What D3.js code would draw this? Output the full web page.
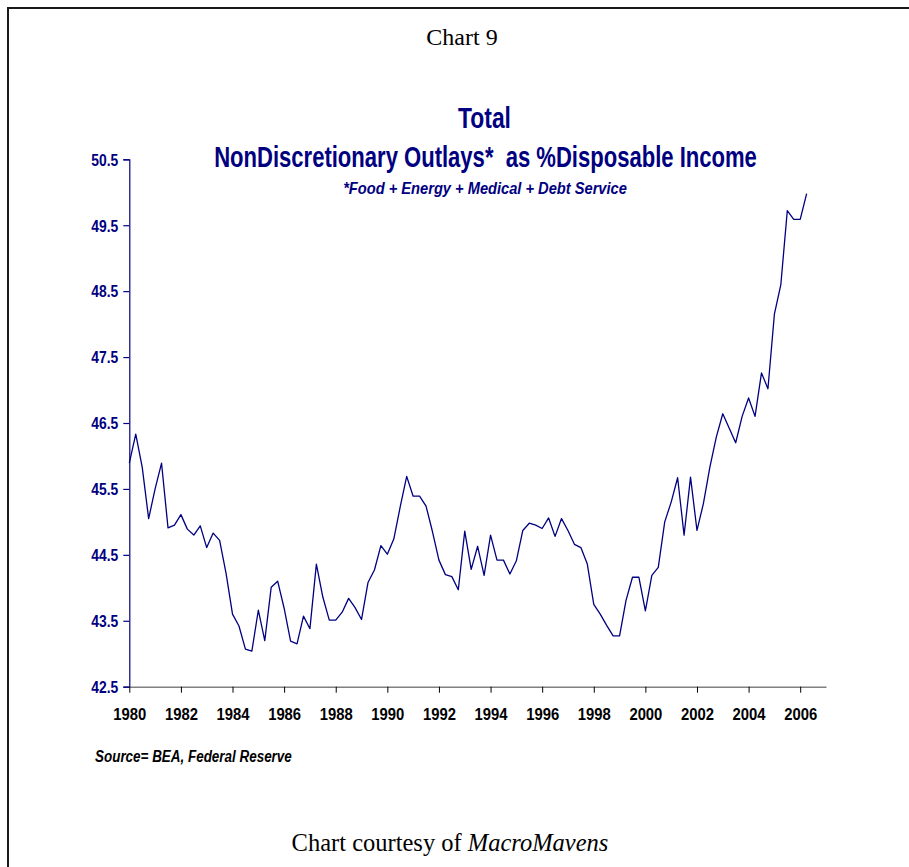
<!DOCTYPE html>
<html>
<head>
<meta charset="utf-8">
<script src="https://cdn.jsdelivr.net/npm/d3@7"></script>
<style>
  html, body { margin: 0; padding: 0; background: #fff; }
  svg { display: block; }
  text { white-space: pre; }
</style>
</head>
<body>
<script>
// ---- data ----
const startYear = 1980; // first quarter 1980Q1, quarterly observations
const values = [
  45.89, 46.33, 45.83, 45.05, 45.50, 45.89, 44.91, 44.95,
  45.11, 44.89, 44.80, 44.94, 44.61, 44.83, 44.72, 44.22,
  43.60, 43.42, 43.07, 43.04, 43.66, 43.20, 44.01, 44.10,
  43.69, 43.19, 43.15, 43.57, 43.38, 44.36, 43.86, 43.51,
  43.51, 43.63, 43.84, 43.70, 43.52, 44.08, 44.27, 44.64,
  44.51, 44.74, 45.23, 45.69, 45.39, 45.39, 45.24, 44.85,
  44.42, 44.20, 44.17, 43.97, 44.86, 44.28, 44.63, 44.19,
  44.80, 44.42, 44.42, 44.21, 44.41, 44.87, 44.98, 44.95,
  44.90, 45.06, 44.78, 45.05, 44.87, 44.66, 44.61, 44.36,
  43.75, 43.60, 43.43, 43.27, 43.27, 43.81, 44.16, 44.16,
  43.65, 44.19, 44.31, 45.00, 45.30, 45.67, 44.80, 45.68,
  44.87, 45.28, 45.83, 46.29, 46.64, 46.42, 46.20, 46.60,
  46.88, 46.60, 47.26, 47.02, 48.15, 48.60, 49.72, 49.59,
  49.59, 49.98
];
const xTicks = [1980, 1982, 1984, 1986, 1988, 1990, 1992, 1994, 1996, 1998, 2000, 2002, 2004, 2006];
const yTicks = [42.5, 43.5, 44.5, 45.5, 46.5, 47.5, 48.5, 49.5, 50.5];
const titleLine1 = "Total";
const titleLine2 = "NonDiscretionary Outlays*  as %Disposable Income";
const subtitle = "*Food + Energy + Medical + Debt Service";
const sourceText = "Source= BEA, Federal Reserve";
const headerText = "Chart 9";

// ---- drawing ----
const W = 909, H = 867;
const navy = "#000080";
const svg = d3.select("body").append("svg").attr("width", W).attr("height", H);

// squeeze a text horizontally (condensed look) to a target width, anchored at (ax, ay)
function fit(textSel, ax, ay, width) {
  const w = textSel.node().getComputedTextLength();
  const k = Math.min(1, width / w);
  textSel.attr("x", 0).attr("y", 0)
    .attr("transform", `translate(${ax},${ay}) scale(${k},1)`);
}

// frame
svg.append("rect").attr("x", 8).attr("y", 8).attr("width", 1000).attr("height", 1000)
  .attr("fill", "none").attr("stroke", "#1a1a1a").attr("stroke-width", 2);

const x = d3.scaleLinear().domain([1980, 2007]).range([129.3, 826]);
const y = d3.scaleLinear().domain([42.5, 50.5]).range([686.7, 159.3]);

// header
svg.append("text").attr("x", 462).attr("y", 45).attr("text-anchor", "middle")
  .attr("font-family", "Liberation Serif, Times New Roman, serif").attr("font-size", 24)
  .attr("fill", "#000").text(headerText);

// titles
const titleFont = "Liberation Sans, Arial, sans-serif";
const t1 = svg.append("text").attr("text-anchor", "middle")
  .attr("font-family", titleFont).attr("font-weight", "bold").attr("font-size", 29)
  .attr("fill", navy).text(titleLine1);
fit(t1, 484.5, 128.3, 53);
const t2 = svg.append("text").attr("text-anchor", "middle")
  .attr("font-family", titleFont).attr("font-weight", "bold").attr("font-size", 29)
  .attr("fill", navy).text(titleLine2);
fit(t2, 485.5, 166.7, 543);
const t3 = svg.append("text").attr("text-anchor", "middle")
  .attr("font-family", titleFont).attr("font-weight", "bold").attr("font-style", "italic")
  .attr("font-size", 17).attr("fill", navy).text(subtitle);
fit(t3, 485, 194, 284);

// y axis
const yAxis = d3.axisLeft(y).tickValues(yTicks).tickSize(6).tickFormat(d3.format(".1f"));
const gy = svg.append("g").attr("transform", `translate(${x(1980)},0)`).call(yAxis);
gy.select(".domain").attr("stroke", navy).attr("stroke-width", 1.2);
gy.selectAll(".tick line").attr("stroke", navy).attr("stroke-width", 1.2);
gy.selectAll(".tick text")
  .attr("font-family", titleFont).attr("font-weight", "bold").attr("font-size", 16)
  .attr("fill", navy).attr("dy", "0.36em")
  .each(function () { fit(d3.select(this), -11, 0, 27); });

// x axis
const xAxis = d3.axisBottom(x).tickValues(xTicks).tickSize(6).tickSizeOuter(0).tickFormat(d3.format("d"));
const gx = svg.append("g").attr("transform", `translate(0,${y(42.5)})`).call(xAxis);
gx.select(".domain").attr("stroke", "#808080").attr("stroke-width", 1.5);
gx.selectAll(".tick line").attr("stroke", "#000").attr("stroke-width", 1);
gx.selectAll(".tick text")
  .attr("font-family", titleFont).attr("font-weight", "bold").attr("font-size", 16)
  .attr("fill", "#000").attr("dy", "0.71em")
  .each(function () { fit(d3.select(this), 0, 22, 33); });

// line
const line = d3.line()
  .x((d, i) => x(startYear + i / 4))
  .y(d => y(d));
svg.append("path").datum(values).attr("d", line)
  .attr("fill", "none").attr("stroke", navy).attr("stroke-width", 1.3)
  .attr("stroke-linejoin", "round");

// source
const src = svg.append("text")
  .attr("font-family", titleFont).attr("font-weight", "bold").attr("font-style", "italic")
  .attr("font-size", 16).attr("fill", "#000").text(sourceText);
fit(src, 95, 761.7, 197);

// courtesy footer
const foot = svg.append("text").attr("x", 450).attr("y", 851).attr("text-anchor", "middle")
  .attr("font-family", "Liberation Serif, Times New Roman, serif").attr("font-size", 24.5)
  .attr("fill", "#000");
foot.append("tspan").text("Chart courtesy of ");
foot.append("tspan").attr("font-style", "italic").text("MacroMavens");
</script>
</body>
</html>
